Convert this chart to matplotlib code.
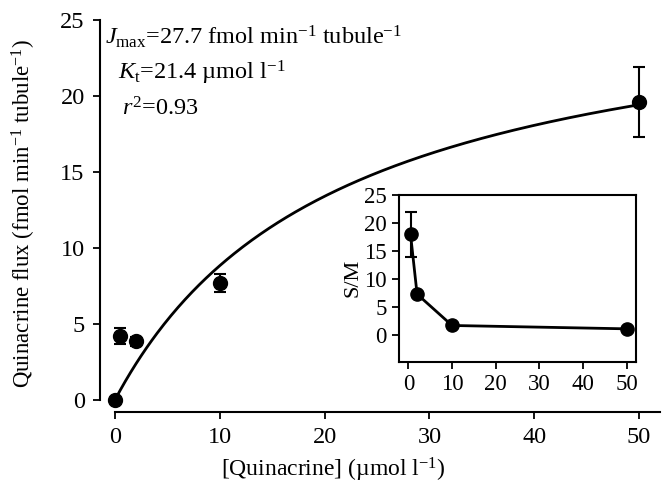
import numpy as np
import matplotlib
matplotlib.use("Agg")
import matplotlib.pyplot as plt

plt.rcParams['font.family'] = ['Liberation Serif', 'DejaVu Serif']
plt.rcParams['mathtext.fontset'] = 'custom'
plt.rcParams['mathtext.rm'] = 'Liberation Serif'
plt.rcParams['mathtext.it'] = 'Liberation Serif:italic'
plt.rcParams['mathtext.bf'] = 'Liberation Serif:bold'

# Main data
conc = [0, 0.5, 2, 10, 50]
flux = [0.0, 4.2, 3.85, 7.7, 19.6]
flux_err = [0.0, 0.5, 0.3, 0.6, 2.3]
jmax = 27.7
kt = 21.4

# Inset data
inset_conc = [0.5, 2, 10, 50]
sm = [18.0, 7.3, 1.7, 1.1]
sm_err = [4.0, 0.0, 0.0, 0.0]

main_xticks = [0, 10, 20, 30, 40, 50]
main_yticks = [0, 5, 10, 15, 20, 25]
inset_xticks = [0, 10, 20, 30, 40, 50]
inset_yticks = [0, 5, 10, 15, 20, 25]

fig = plt.figure(figsize=(6.67, 4.88), dpi=100)
ax = fig.add_axes([0.1499, 0.1557, 0.8396, 0.8136])

xfit = np.linspace(0, 50, 300)
ax.plot(xfit, jmax * xfit / (kt + xfit), color='black', lw=2.0, zorder=2)
ax.errorbar(conc, flux, yerr=flux_err, fmt='o', color='black', ms=10,
            elinewidth=1.5, capsize=4, capthick=1.5, zorder=3)

ax.set_xlim(-1.43, 52.0)
ax.set_ylim(-0.8, 25.3)
ax.set_xticks(main_xticks)
ax.set_yticks(main_yticks)
for s in ['top', 'right']:
    ax.spines[s].set_visible(False)
ax.spines['left'].set_bounds(0, 25)
ax.spines['bottom'].set_bounds(0, 52.0)
for s in ['left', 'bottom']:
    ax.spines[s].set_linewidth(1.5)
ax.tick_params(direction='out', length=5, width=1.3, labelsize=17.5, pad=6)

ax.set_xlabel('[Quinacrine] (\u00b5mol l$^{-1}$)', fontsize=17, labelpad=6)
ax.xaxis.set_label_coords(0.416, -0.11)
ax.set_ylabel('Quinacrine flux (fmol min$^{-1}$ tubule$^{-1}$)', fontsize=16.5, labelpad=16)

ax.text(-0.95, 23.9, r'$\mathit{J}_{\mathrm{max}}$=27.7 fmol min$^{-1}$ tubule$^{-1}$',
        fontsize=17.5, va='center', ha='left')
ax.text(0.25, 21.5, r'$\mathit{K}_{\mathrm{t}}$=21.4 ' + '\u00b5mol l$^{-1}$',
        fontsize=17.5, va='center', ha='left')
ax.text(0.7, 19.1, r'$\mathit{r}^{2}$=0.93', fontsize=17.5, va='center', ha='left')

# Inset
axi = fig.add_axes([0.5987, 0.2588, 0.3549, 0.3416])
axi.plot(inset_conc, sm, color='black', lw=2.0, zorder=2)
axi.errorbar(inset_conc, sm, yerr=sm_err, fmt='o', color='black', ms=9.5,
             elinewidth=1.5, capsize=4, capthick=1.5, zorder=3)
axi.set_xlim(-2.06, 52.1)
axi.set_ylim(-4.77, 25)
axi.set_xticks(inset_xticks)
axi.set_yticks(inset_yticks)
for s in axi.spines.values():
    s.set_linewidth(1.5)
axi.tick_params(direction='out', length=5, width=1.3, labelsize=16.5, pad=4)
axi.set_ylabel('S/M', fontsize=16, labelpad=1)

fig.savefig('out.png', dpi=100)
